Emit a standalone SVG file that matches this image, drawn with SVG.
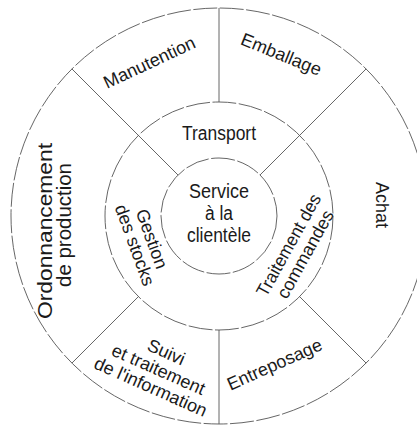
<svg xmlns="http://www.w3.org/2000/svg" width="417" height="426" viewBox="0 0 417 426">
<style>
.ring{fill:none;stroke:#555;stroke-width:0.9;stroke-dasharray:24 2.5}
.div{stroke:#555;stroke-width:0.9;fill:none}
text{font-family:"Liberation Sans",Arial,sans-serif;fill:#1a1a1a;text-anchor:middle}
.big{font-size:20px}
.lab{font-size:18px}
</style>
<rect width="417" height="426" fill="#fff"/>
<g id="rings">
<circle class="ring" cx="219" cy="216" r="208"/>
<circle class="ring" cx="219" cy="216" r="114"/>
<circle class="ring" cx="219" cy="216" r="58"/>
</g>
<g id="connectors">
<line class="div" x1="178" y1="175" x2="71.9" y2="68.9"/>
<line class="div" x1="260" y1="175" x2="366.1" y2="68.9"/>
<line class="div" x1="299.6" y1="296.6" x2="366.1" y2="363.1"/>
<line class="div" x1="138.4" y1="296.6" x2="71.9" y2="363.1"/>
<line class="div" x1="219" y1="102" x2="219" y2="8"/>
<line class="div" x1="219" y1="330" x2="219" y2="424"/>
</g>
<g id="service">
<text class="big" x="219" y="198" textLength="60" lengthAdjust="spacingAndGlyphs">Service</text>
<text class="big" x="219" y="220" textLength="28" lengthAdjust="spacingAndGlyphs">à la</text>
<text class="big" x="219" y="242" textLength="64" lengthAdjust="spacingAndGlyphs">clientèle</text>
</g>
<g id="transport">
<text class="big" x="219" y="140" textLength="74" lengthAdjust="spacingAndGlyphs">Transport</text>
</g>
<g id="gestion" transform="translate(146 241) rotate(70)">
<text class="lab" x="0" y="0">Gestion</text>
<text class="lab" x="0" y="18">des stocks</text>
</g>
<g id="traitement" transform="translate(294 248) rotate(-61)">
<text class="lab" x="0" y="0" textLength="114" lengthAdjust="spacingAndGlyphs">Traitement des</text>
<text class="lab" x="0" y="19">commandes</text>
</g>
<g id="manutention">
<text class="lab" transform="translate(152 68) rotate(-25)">Manutention</text>
</g>
<g id="emballage">
<text class="lab" transform="translate(279 60) rotate(22)">Emballage</text>
</g>
<g id="achat">
<text class="lab" transform="translate(376 205) rotate(90)">Achat</text>
</g>
<g id="entreposage">
<text class="lab" transform="translate(277 370) rotate(-24)">Entreposage</text>
</g>
<g id="suivi" transform="translate(156 375) rotate(24)">
<text class="lab" x="0" y="-19">Suivi</text>
<text class="lab" x="0" y="0">et traitement</text>
<text class="lab" x="0" y="19">de l'information</text>
</g>
<g id="ordonnancement">
<text class="lab" transform="translate(52 231) rotate(-90)" textLength="176" lengthAdjust="spacingAndGlyphs" style="font-size:19.5px">Ordonnancement</text>
<text class="lab" transform="translate(71 225) rotate(-90)" textLength="124" lengthAdjust="spacingAndGlyphs" style="font-size:19.5px">de production</text>
</g>
</svg>
